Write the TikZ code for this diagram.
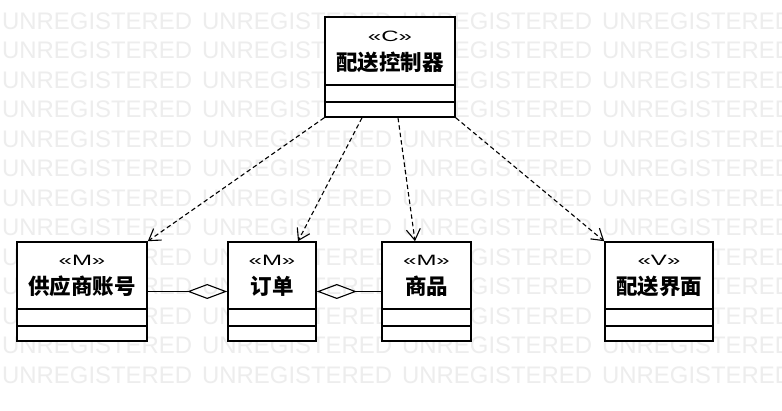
\documentclass[tikz,border=0pt]{standalone}
\usepackage{fontspec}
\usetikzlibrary{arrows.meta}
\newfontfamily\wzfont{Liberation Sans}
\newfontfamily\stfont[FakeStretch=1.6]{Liberation Sans}
\newfontfamily\cjk{Noto Sans CJK SC}
\tikzset{
	klasse/.style={draw=black, line width=1.6pt, fill=white, inner sep=0pt},
	teil/.style={line width=1.6pt},
	stereo/.style={inner sep=0pt, font=\stfont\fontsize{15}{17}\selectfont},
	titel/.style={inner sep=0pt, font=\cjk\bfseries\fontsize{21.5}{24}\selectfont},
	abh/.style={line width=1.1pt, dash pattern=on 4.5pt off 3pt,
		-{Straight Barb[length=11pt, width=14pt]}},
	agg/.style={line width=1.1pt, -{Diamond[open, length=40pt, width=15pt]}},
	wz/.style={anchor=base west, inner sep=0pt, text=black!7,
		font=\wzfont\fontsize{23.9}{26}\selectfont}
}
\begin{document}
\begin{tikzpicture}[x=1pt, y=-1pt]
	\useasboundingbox (0,0) rectangle (782,411);
	\fill[white] (0,0) rectangle (782,411);
	% Wasserzeichen
	\begin{scope}
		\clip (0,0) rectangle (782,411);
		\foreach \r in {1,...,13}
			\foreach \c in {0,...,3}
				\node[wz] (wz-\r-\c) at (2+200*\c, 29.5*\r) {UNREGISTERED};
	\end{scope}
	% Klassen
	\node[klasse, minimum width=130pt, minimum height=100pt] (ctrl) at (390, 67) {};
	\node[stereo] (ctrl-st) at (390, 36) {«C»};
	\node[titel] (ctrl-name) at (390, 62) {配送控制器};
	\node[klasse, minimum width=130pt, minimum height=99pt] (lief) at (82, 291.5) {};
	\node[stereo] (lief-st) at (82, 260.5) {«M»};
	\node[titel] (lief-name) at (82, 286) {供应商账号};
	\node[klasse, minimum width=88pt, minimum height=99pt] (auftrag) at (272, 291.5) {};
	\node[stereo] (auftrag-st) at (272, 260.5) {«M»};
	\node[titel] (auftrag-name) at (272, 286) {订单};
	\node[klasse, minimum width=89pt, minimum height=99pt] (ware) at (426.5, 291.5) {};
	\node[stereo] (ware-st) at (426.5, 260.5) {«M»};
	\node[titel] (ware-name) at (426.5, 286) {商品};
	\node[klasse, minimum width=108pt, minimum height=99pt] (sicht) at (659, 291.5) {};
	\node[stereo] (sicht-st) at (659, 260.5) {«V»};
	\node[titel] (sicht-name) at (659, 286) {配送界面};
	% Abteilungen
	\foreach \k in {ctrl,lief,auftrag,ware,sicht} {
		\draw[teil] ([yshift=33pt]\k.south west) -- ([yshift=33pt]\k.south east);
		\draw[teil] ([yshift=16pt]\k.south west) -- ([yshift=16pt]\k.south east);
	}
	% Abhaengigkeiten
	\draw[abh] (ctrl.south west) -- (lief.north east);
	\draw[abh] ([xshift=-28pt]ctrl.south) -- ([xshift=26pt]auftrag.north);
	\draw[abh] ([xshift=8pt]ctrl.south) -- ([xshift=-11.5pt]ware.north);
	\draw[abh] (ctrl.south east) -- (sicht.north west);
	% Aggregationen
	\draw[agg] (lief.east) -- (auftrag.west);
	\draw[agg] (ware.west) -- (auftrag.east);
\end{tikzpicture}
\end{document}
